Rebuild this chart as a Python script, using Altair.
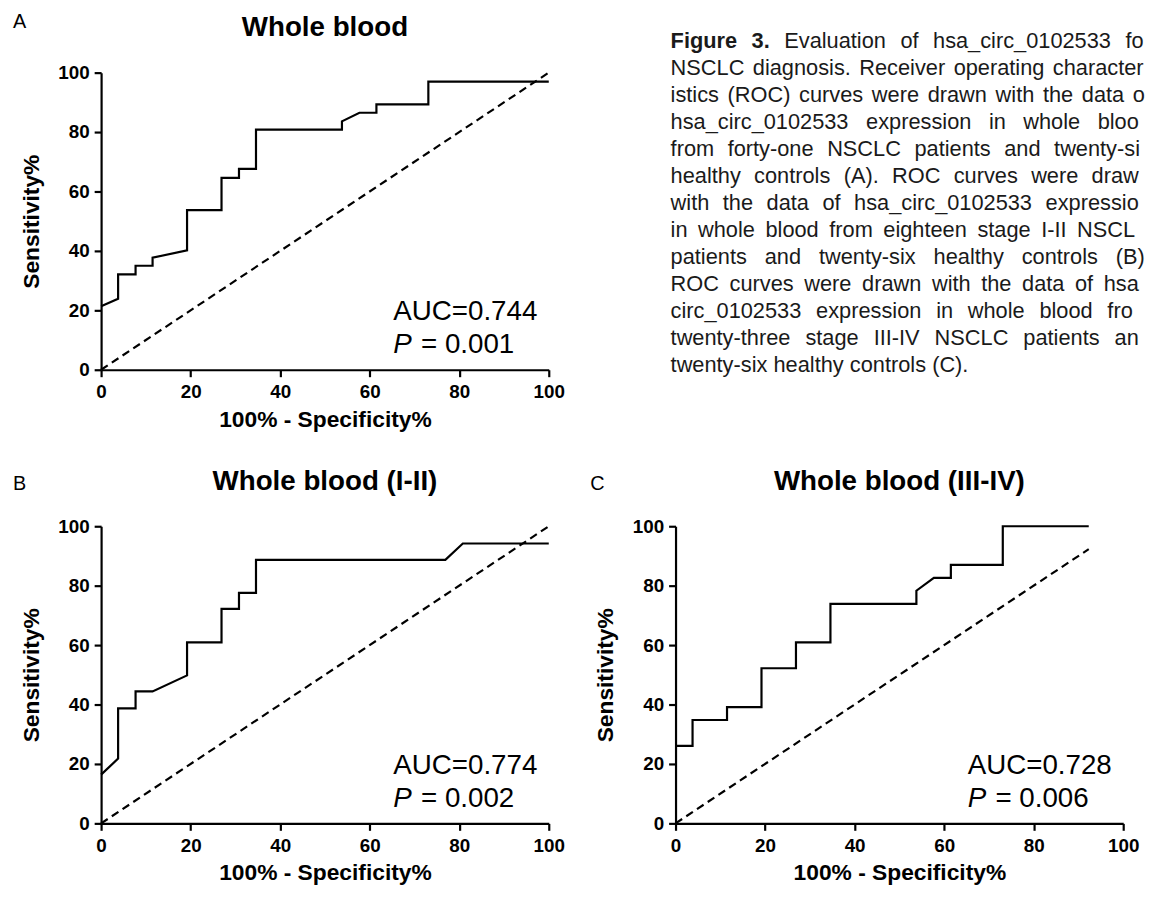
import altair as alt
import pandas as pd

FONT = "Liberation Sans"

# ---------------- data ----------------
ticks = [0, 20, 40, 60, 80, 100]

# Panel A: Whole blood
a_fpr = [0, 3.8, 3.8, 7.7, 7.7, 11.5, 11.5, 19.2, 19.2, 26.9, 26.9, 30.8, 30.8,
         34.6, 34.6, 53.8, 53.8, 57.7, 61.5, 61.5, 73.1, 73.1, 100]
a_tpr = [21.4, 23.9, 32.1, 32.1, 35.0, 35.0, 37.7, 40.2, 53.7, 53.7, 64.6, 64.6, 67.6,
         67.6, 80.8, 80.8, 83.6, 86.5, 86.5, 89.3, 89.3, 97.0, 97.0]

# Panel B: Whole blood (I-II)
b_fpr = [0, 3.8, 3.8, 7.7, 7.7, 11.5, 19.2, 19.2, 26.9, 26.9, 30.8, 30.8, 34.6,
         34.6, 76.9, 80.8, 100]
b_tpr = [16.4, 21.8, 38.7, 38.7, 44.4, 44.4, 49.8, 60.9, 60.9, 72.2, 72.2, 77.6, 77.6,
         88.7, 88.7, 94.2, 94.2]

# Panel C: Whole blood (III-IV)
c_fpr = [0, 3.8, 3.8, 11.5, 11.5, 19.2, 19.2, 26.9, 26.9, 34.6, 34.6, 53.8, 53.8,
         57.7, 61.5, 61.5, 73.1, 73.1, 92.3]
c_tpr = [26.1, 26.1, 34.8, 34.8, 39.1, 39.1, 52.2, 52.2, 60.9, 60.9, 73.9, 73.9, 78.3,
         82.6, 82.6, 87.0, 87.0, 100, 100]

ref_ends = [100, 100, 92.3]
titles = ["Whole blood", "Whole blood (I-II)", "Whole blood (III-IV)"]
letters = ["A", "B", "C"]
auc_values = ["0.744", "0.774", "0.728"]
p_values = ["0.001", "0.002", "0.006"]

caption_head = ["Figure", "3."]
caption_lines = [
    "Evaluation of hsa_circ_0102533 for",
    "NSCLC diagnosis. Receiver operating character-",
    "istics (ROC) curves were drawn with the data of",
    "hsa_circ_0102533 expression in whole blood",
    "from forty-one NSCLC patients and twenty-six",
    "healthy controls (A). ROC curves were drawn",
    "with the data of hsa_circ_0102533 expression",
    "in whole blood from eighteen stage I-II NSCLC",
    "patients and twenty-six healthy controls (B).",
    "ROC curves were drawn with the data of hsa_",
    "circ_0102533 expression in whole blood from",
    "twenty-three stage III-IV NSCLC patients and",
    "twenty-six healthy controls (C).",
]

W, H = 452, 300
CAP_FS = 22

# ---------------- caption typesetting (justified, clipped at page edge) ----------------
_REG = {" ": 278, "(": 333, ")": 333, ",": 278, "-": 333, ".": 278, "_": 556,
        "A": 667, "B": 667, "C": 722, "D": 722, "E": 667, "F": 611, "G": 778, "H": 722,
        "I": 278, "L": 556, "N": 722, "O": 778, "P": 667, "R": 722, "S": 667, "V": 667,
        "a": 556, "b": 556, "c": 500, "d": 556, "e": 556, "f": 278, "g": 556, "h": 556,
        "i": 222, "j": 222, "k": 500, "l": 222, "m": 833, "n": 556, "o": 556, "p": 556,
        "q": 556, "r": 333, "s": 500, "t": 278, "u": 556, "v": 500, "w": 722, "x": 500,
        "y": 500, "z": 500}
_BOLD = {"F": 611, "i": 278, "g": 611, "u": 611, "r": 389, "e": 556, "3": 556, ".": 278}


def char_w(ch, bold):
    table = _BOLD if bold else _REG
    return table.get(ch, 556) * CAP_FS / 1000.0


def word_w(w, bold):
    return sum(char_w(c, bold) for c in w)


COL_LEFT, COL_RIGHT, CLIP = -5, 480, 474
rows = []
for i, line in enumerate(caption_lines):
    words = [(w, False) for w in line.split(" ")]
    if i == 0:
        words = [(w, True) for w in caption_head] + words
    natural = sum(word_w(w, b) for w, b in words)
    if i == len(caption_lines) - 1:
        gap = char_w(" ", False)
    else:
        gap = (COL_RIGHT - COL_LEFT - natural) / (len(words) - 1)
    pos = COL_LEFT
    for w, b in words:
        shown, edge = "", pos
        for ch in w:
            if edge + char_w(ch, b) > CLIP:
                break
            shown += ch
            edge += char_w(ch, b)
        if shown:
            rows.append({"line": i, "word": shown, "cx": pos, "bold": b})
        pos += word_w(w, b) + gap
cap_df = pd.DataFrame(rows)


def panel(fpr, tpr, ref_end, title, letter, letter_x, letter_y, auc, p):
    curve_df = pd.DataFrame({"fpr": fpr, "tpr": tpr, "step": list(range(len(fpr)))})
    ref_df = pd.DataFrame({"fpr": [0, ref_end], "tpr": [0, ref_end]})
    info_df = pd.DataFrame({"title": [title], "letter": [letter],
                            "auc": ["AUC=" + auc], "pval": ["= " + p]})
    xs = alt.Scale(domain=[0, 100], nice=False)
    ys = alt.Scale(domain=[0, 100], nice=False)
    x = alt.X("fpr:Q", scale=xs,
              axis=alt.Axis(values=ticks, title="100% - Specificity%",
                            labelPadding=6, titlePadding=7))
    y = alt.Y("tpr:Q", scale=ys,
              axis=alt.Axis(values=ticks, title="Sensitivity%",
                            labelPadding=5, titlePadding=15))
    ref = alt.Chart(ref_df).mark_line(color="black", strokeWidth=2.2,
                                      strokeDash=[8, 5]).encode(x=x, y=y)
    curve = alt.Chart(curve_df).mark_line(color="black", strokeWidth=2.2).encode(
        x=x, y=y, order="step:Q")
    info = alt.Chart(info_df)
    auc_t = info.mark_text(align="left", baseline="middle", fontSize=28, font=FONT,
                           color="black").encode(
        x=alt.value(295), y=alt.value(242), text="auc:N")
    p_t = info.mark_text(align="left", baseline="middle", fontSize=28, font=FONT,
                         fontStyle="italic", color="black").encode(
        x=alt.value(295), y=alt.value(275), text=alt.value("P"))
    pv_t = info.mark_text(align="left", baseline="middle", fontSize=28, font=FONT,
                          dx=28, color="black").encode(
        x=alt.value(295), y=alt.value(275), text="pval:N")
    title_t = info.mark_text(align="center", baseline="middle", fontSize=28,
                             fontWeight="bold", font=FONT, color="black").encode(
        x=alt.value(W / 2), y=alt.value(-45), text="title:N")
    letter_t = info.mark_text(align="left", baseline="top", fontSize=20,
                              font=FONT, color="black").encode(
        x=alt.value(letter_x), y=alt.value(letter_y), text="letter:N")
    return alt.layer(ref, curve, auc_t, p_t, pv_t, title_t, letter_t).properties(
        width=W, height=H)


pA = panel(a_fpr, a_tpr, ref_ends[0], titles[0], letters[0], -89, -61, auc_values[0], p_values[0])
pB = panel(b_fpr, b_tpr, ref_ends[1], titles[1], letters[1], -89, -53, auc_values[1], p_values[1])
pC = panel(c_fpr, c_tpr, ref_ends[2], titles[2], letters[2], -86, -53, auc_values[2], p_values[2])

cx = alt.X("cx:Q", scale=alt.Scale(domain=[COL_LEFT, COL_RIGHT], range=[COL_LEFT, COL_RIGHT]),
           axis=None)
cy = alt.Y("line:Q", scale=alt.Scale(domain=[0, 12], range=[-32, 295.6]), axis=None)
cap_base = alt.Chart(cap_df)
cap_bold = cap_base.transform_filter("datum.bold").mark_text(
    align="left", baseline="middle", fontSize=CAP_FS, font=FONT, fontWeight="bold",
    color="#1a1a1a").encode(x=cx, y=cy, text="word:N")
cap_reg = cap_base.transform_filter("!datum.bold").mark_text(
    align="left", baseline="middle", fontSize=CAP_FS, font=FONT,
    color="#1a1a1a").encode(x=cx, y=cy, text="word:N")
caption = alt.layer(cap_bold, cap_reg).properties(width=W, height=H)

chart = alt.concat(pA, caption, pB, pC, columns=2,
                   spacing={"row": 158, "column": 128}, bounds="flush").properties(
    padding={"left": 5, "top": 0, "right": 0, "bottom": 0}
).configure_view(strokeWidth=0).configure_axis(
    grid=False, domainColor="black", domainWidth=2.2, tickColor="black",
    tickWidth=2.2, tickSize=7, labelFont=FONT, labelFontSize=19,
    labelFontWeight="bold", labelColor="black", labelFlush=False,
    labelOverlap=False, titleFont=FONT, titleFontSize=23, titleFontWeight="bold",
    titleColor="black"
)

chart.save("out.html", embed_options={"renderer": "svg", "actions": False})
